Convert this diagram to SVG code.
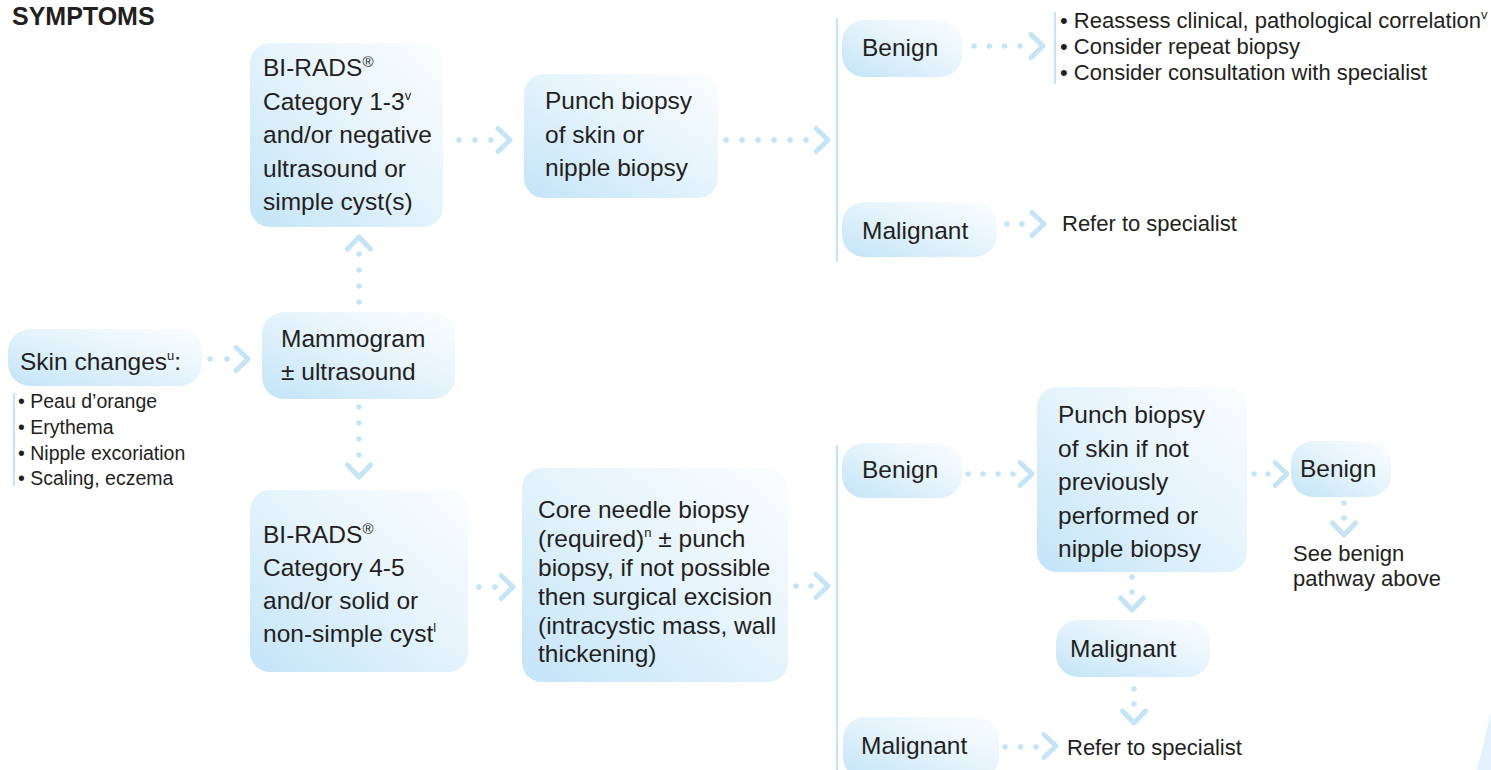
<svg xmlns="http://www.w3.org/2000/svg" xmlns:xlink="http://www.w3.org/1999/xlink" width="1491" height="770" viewBox="0 0 1491 770">
  <defs>
    <linearGradient id="boxFill" x1="0" y1="1" x2="1" y2="0">
      <stop offset="0" stop-color="#c3e4f8"/>
      <stop offset="0.55" stop-color="#e6f4fc"/>
      <stop offset="1" stop-color="#fbfdff"/>
    </linearGradient>
    <!-- chevron heads, centred on the origin -->
    <path id="chev-r" d="M-6,-11.5 L6,0 L-6,11.5"/>
    <path id="chev-u" d="M-11.5,6 L0,-6 L11.5,6"/>
    <path id="chev-d" d="M-11.5,-6 L0,6 L11.5,-6"/>
    <style>
      .box { fill: url(#boxFill); }
      .t { font-family: "Liberation Sans", Arial, sans-serif; font-size: 24.5px; fill: #231f20; }
      .s { font-family: "Liberation Sans", Arial, sans-serif; font-size: 22px; fill: #231f20; }
      .l { font-family: "Liberation Sans", Arial, sans-serif; font-size: 19.5px; fill: #231f20; }
      .title { font-family: "Liberation Sans", Arial, sans-serif; font-size: 25px; font-weight: bold; fill: #231f20; }
      .sup { font-size: 13px; }
      .dots { stroke: #c4e5f8; stroke-width: 5.5; stroke-linecap: round; fill: none; }
      .chev { stroke: #c4e5f8; stroke-width: 5; stroke-linecap: round; stroke-linejoin: round; fill: none; }
      .rule { stroke: #c4e5f8; stroke-width: 2.2; fill: none; }
    </style>
  </defs>

  <rect width="1491" height="770" fill="#ffffff"/>

  <text class="title" x="12" y="25">SYMPTOMS</text>

  <!-- connectors: dotted runs end half a step past the last dot so it is drawn -->
  <g id="connectors">
    <!-- skin changes to mammogram -->
    <line class="dots" x1="210" y1="359" x2="228" y2="359" stroke-dasharray="0 17"/>
    <use href="#chev-r" class="chev" x="242" y="359"/>
    <!-- mammogram up to BI-RADS 1-3 -->
    <line class="dots" x1="359" y1="302" x2="359" y2="253" stroke-dasharray="0 16"/>
    <use href="#chev-u" class="chev" x="359" y="243"/>
    <!-- mammogram down to BI-RADS 4-5 -->
    <line class="dots" x1="359" y1="407" x2="359" y2="456" stroke-dasharray="0 16"/>
    <use href="#chev-d" class="chev" x="359" y="471"/>
    <!-- BI-RADS 1-3 to punch biopsy -->
    <line class="dots" x1="459" y1="140" x2="492" y2="140" stroke-dasharray="0 16"/>
    <use href="#chev-r" class="chev" x="504" y="140"/>
    <!-- punch biopsy to results -->
    <line class="dots" x1="726" y1="140" x2="807" y2="140" stroke-dasharray="0 16"/>
    <use href="#chev-r" class="chev" x="822" y="140"/>
    <line class="rule" x1="837" y1="18" x2="837" y2="262"/>
    <!-- benign (upper) to advice list -->
    <line class="dots" x1="974" y1="46" x2="1021" y2="46" stroke-dasharray="0 15.33"/>
    <use href="#chev-r" class="chev" x="1037" y="46"/>
    <line class="rule" x1="1055" y1="12" x2="1055" y2="84"/>
    <!-- malignant (upper) to referral -->
    <line class="dots" x1="1007" y1="224" x2="1023" y2="224" stroke-dasharray="0 15"/>
    <use href="#chev-r" class="chev" x="1038" y="224"/>
    <!-- BI-RADS 4-5 to core needle biopsy -->
    <line class="dots" x1="479" y1="587" x2="496" y2="587" stroke-dasharray="0 16"/>
    <use href="#chev-r" class="chev" x="507" y="587"/>
    <!-- core needle biopsy to results -->
    <line class="dots" x1="796" y1="586" x2="812" y2="586" stroke-dasharray="0 15"/>
    <use href="#chev-r" class="chev" x="822" y="586"/>
    <line class="rule" x1="837" y1="445" x2="837" y2="770"/>
    <!-- benign (lower) to punch biopsy -->
    <line class="dots" x1="968" y1="474" x2="1014" y2="474" stroke-dasharray="0 15"/>
    <use href="#chev-r" class="chev" x="1026" y="474"/>
    <!-- punch biopsy to benign -->
    <line class="dots" x1="1254" y1="474" x2="1269" y2="474" stroke-dasharray="0 14"/>
    <use href="#chev-r" class="chev" x="1281" y="474"/>
    <!-- benign to see-above note -->
    <line class="dots" x1="1344" y1="503" x2="1344" y2="519" stroke-dasharray="0 15"/>
    <use href="#chev-d" class="chev" x="1344" y="529"/>
    <!-- punch biopsy to malignant -->
    <line class="dots" x1="1132" y1="577" x2="1132" y2="593" stroke-dasharray="0 15"/>
    <use href="#chev-d" class="chev" x="1132" y="604"/>
    <!-- malignant down -->
    <line class="dots" x1="1134" y1="689" x2="1134" y2="705" stroke-dasharray="0 15"/>
    <use href="#chev-d" class="chev" x="1134" y="717"/>
    <!-- malignant (lower) to referral -->
    <line class="dots" x1="1005" y1="747" x2="1037" y2="747" stroke-dasharray="0 15.5"/>
    <use href="#chev-r" class="chev" x="1050" y="746"/>
  </g>

  <g id="skin-changes">
    <rect class="box" x="8" y="329" width="194" height="57" rx="22"/>
    <text class="t" x="20" y="370">Skin changes<tspan class="sup" dy="-10">u</tspan><tspan dy="10">:</tspan></text>
  </g>

  <g id="skin-changes-list">
    <line class="rule" x1="14" y1="393" x2="14" y2="486"/>
    <text class="l" x="18" y="408">• Peau d’orange</text>
    <text class="l" x="18" y="434">• Erythema</text>
    <text class="l" x="18" y="460">• Nipple excoriation</text>
    <text class="l" x="18" y="485">• Scaling, eczema</text>
  </g>

  <g id="mammogram">
    <rect class="box" x="262" y="312" width="193" height="87" rx="22"/>
    <text class="t" x="281" y="347">Mammogram</text>
    <text class="t" x="281" y="380">± ultrasound</text>
  </g>

  <g id="birads-1-3">
    <rect class="box" x="250" y="43" width="193" height="184" rx="20"/>
    <text class="t" x="263" y="76">BI-RADS<tspan style="font-size:15px" dy="-9">®</tspan></text>
    <text class="t" x="263" y="110">Category 1-3<tspan class="sup" dy="-10">v</tspan></text>
    <text class="t" x="263" y="143">and/or negative</text>
    <text class="t" x="263" y="177">ultrasound or</text>
    <text class="t" x="263" y="210">simple cyst(s)</text>
  </g>

  <g id="punch-biopsy-1">
    <rect class="box" x="524" y="74" width="194" height="124" rx="20"/>
    <text class="t" x="545" y="109">Punch biopsy</text>
    <text class="t" x="545" y="143">of skin or</text>
    <text class="t" x="545" y="176">nipple biopsy</text>
  </g>

  <g id="benign-1">
    <rect class="box" x="842" y="20" width="120" height="57" rx="22"/>
    <text class="t" x="862" y="56">Benign</text>
  </g>

  <g id="benign-1-advice">
    <text class="s" x="1060" y="28">• Reassess clinical, pathological correlation<tspan class="sup" dy="-9">v</tspan></text>
    <text class="s" x="1060" y="54">• Consider repeat biopsy</text>
    <text class="s" x="1060" y="80">• Consider consultation with specialist</text>
  </g>

  <g id="malignant-1">
    <rect class="box" x="842" y="202" width="155" height="55" rx="22"/>
    <text class="t" x="862" y="239">Malignant</text>
  </g>
  <text id="refer-1" class="s" x="1062" y="231">Refer to specialist</text>

  <g id="birads-4-5">
    <rect class="box" x="250" y="490" width="218" height="182" rx="20"/>
    <text class="t" x="263" y="543">BI-RADS<tspan style="font-size:15px" dy="-9">®</tspan></text>
    <text class="t" x="263" y="576">Category 4-5</text>
    <text class="t" x="263" y="609">and/or solid or</text>
    <text class="t" x="263" y="642">non-simple cyst<tspan class="sup" dy="-10">l</tspan></text>
  </g>

  <g id="core-needle-biopsy">
    <rect class="box" x="522" y="468" width="266" height="214" rx="20"/>
    <text class="t" x="538" y="518">Core needle biopsy</text>
    <text class="t" x="538" y="547">(required)<tspan class="sup" dy="-10">n</tspan><tspan dy="10"> ± punch</tspan></text>
    <text class="t" x="538" y="576">biopsy, if not possible</text>
    <text class="t" x="538" y="605">then surgical excision</text>
    <text class="t" x="538" y="634">(intracystic mass, wall</text>
    <text class="t" x="538" y="662">thickening)</text>
  </g>

  <g id="benign-2">
    <rect class="box" x="842" y="443" width="120" height="55" rx="22"/>
    <text class="t" x="862" y="478">Benign</text>
  </g>

  <g id="punch-biopsy-2">
    <rect class="box" x="1037" y="387" width="210" height="185" rx="20"/>
    <text class="t" x="1058" y="423">Punch biopsy</text>
    <text class="t" x="1058" y="457">of skin if not</text>
    <text class="t" x="1058" y="490">previously</text>
    <text class="t" x="1058" y="524">performed or</text>
    <text class="t" x="1058" y="557">nipple biopsy</text>
  </g>

  <g id="benign-3">
    <rect class="box" x="1291" y="441" width="100" height="56" rx="22"/>
    <text class="t" x="1300" y="477">Benign</text>
  </g>
  <g id="see-benign">
    <text class="s" x="1293" y="561">See benign</text>
    <text class="s" x="1293" y="586">pathway above</text>
  </g>

  <g id="malignant-2">
    <rect class="box" x="1056" y="620" width="154" height="57" rx="22"/>
    <text class="t" x="1070" y="657">Malignant</text>
  </g>

  <g id="malignant-3">
    <rect class="box" x="843" y="717" width="156" height="62" rx="22"/>
    <text class="t" x="861" y="754">Malignant</text>
  </g>
  <text id="refer-2" class="s" x="1067" y="755">Refer to specialist</text>

  <!-- corner page ornament -->
  <path d="M1491,712 L1491,770 L1477,770 Q1484,742 1491,712 Z" fill="#e4f2fb"/>
</svg>
